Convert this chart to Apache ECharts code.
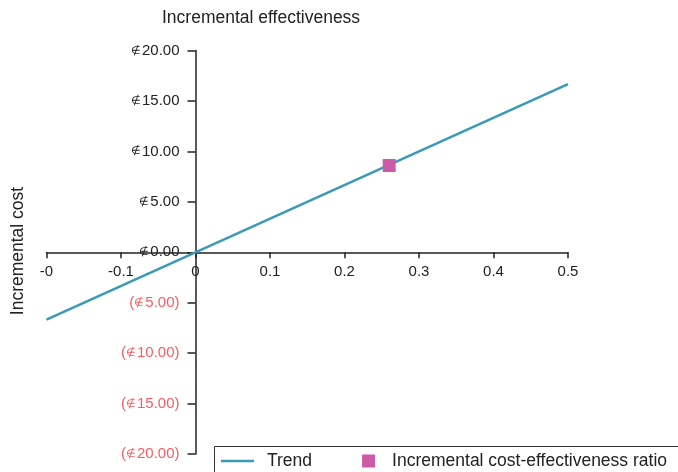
<!DOCTYPE html>
<html>
<head>
<meta charset="utf-8">
<script src="https://cdn.jsdelivr.net/npm/echarts@6/dist/echarts.min.js"></script>
<style>html,body{margin:0;padding:0;background:#fff}#c{width:678px;height:472px}</style>
</head>
<body>
<div id="c"></div>
<script>
// Data
var trendX = [-0.2, 0.5];
var trendY = [-6.67, 16.67];
var icerX = [0.26];
var icerY = [8.6];
var xTickLabels = ['-0', '-0.1', '0', '0.1', '0.2', '0.3', '0.4', '0.5'];
var seriesNames = ['Trend', 'Incremental cost-effectiveness ratio'];
var titleText = 'Incremental effectiveness';
var yAxisTitle = 'Incremental cost';

var FONT = 'Liberation Sans, Arial, Helvetica, sans-serif';
var chart = echarts.init(document.getElementById('c'));

var trendData = trendX.map(function (x, i) { return [x, trendY[i]]; });
var icerData = icerX.map(function (x, i) { return [x, icerY[i]]; });

// grid geometry (layout only)
var G = { left: 46.5, right: 110, top: 50.5, bottom: 18, w: 678, h: 472 };
var plotW = G.w - G.left - G.right;
var plotH = G.h - G.top - G.bottom;
var xMin = -0.2, xMax = 0.5, yMin = -20, yMax = 20;
// offsets so axes cross at zero
var xAxisOffset = -plotH * (0 - yMin) / (yMax - yMin);
var yAxisOffset = -plotW * (0 - xMin) / (xMax - xMin);

chart.setOption({
  animation: false,
  backgroundColor: '#fff',
  textStyle: { fontFamily: FONT },
  title: {
    text: titleText,
    left: 162, top: 9, padding: 0,
    textStyle: { fontSize: 17.5, fontWeight: 'normal', color: '#222', fontFamily: FONT }
  },
  graphic: [
    {
      type: 'text',
      x: 18.5, y: 251,
      rotation: Math.PI / 2,
      style: {
        text: yAxisTitle,
        fill: '#222',
        font: '17.5px ' + FONT,
        align: 'center',
        verticalAlign: 'middle'
      }
    },
    {
      type: 'rect',
      shape: { x: 214.5, y: 446.5, width: 500, height: 40 },
      style: { fill: 'none', stroke: '#333', lineWidth: 1 },
      z: 10
    }
  ],
  legend: {
    left: 214, top: 446,
    padding: [6, 0, 6, 7],
    itemWidth: 33, itemHeight: 13, itemGap: 50,
    textStyle: { fontSize: 17.5, color: '#222', fontFamily: FONT },
    data: [
      { name: seriesNames[0], icon: 'path://M0,0h33v2.5h-33z', textStyle: { padding: [0, 0, 0, 8] } },
      { name: seriesNames[1], icon: 'path://M0,0h13v13h-13z', textStyle: { padding: [0, 0, 0, 2] } }
    ]
  },
  grid: {
    left: G.left, right: G.right, top: G.top, bottom: G.bottom,
    containLabel: false, outerBoundsMode: 'none'
  },
  xAxis: {
    type: 'value',
    min: xMin, max: xMax, interval: 0.1,
    position: 'bottom',
    offset: xAxisOffset,
    axisLine: { onZero: false, lineStyle: { color: '#222', width: 1.5 } },
    axisTick: { show: true, length: 6, lineStyle: { color: '#222', width: 1.5 } },
    splitLine: { show: false },
    axisLabel: {
      margin: 12, fontSize: 15, color: '#222', fontFamily: FONT,
      showMinLabel: true, showMaxLabel: true, hideOverlap: false,
      formatter: function (v) {
        var idx = Math.round((v - xMin) / 0.1);
        return xTickLabels[idx] !== undefined ? xTickLabels[idx] : '';
      }
    }
  },
  yAxis: {
    type: 'value',
    min: yMin, max: yMax, interval: 5,
    position: 'left',
    offset: yAxisOffset,
    axisLine: { onZero: false, lineStyle: { color: '#222', width: 1.5 } },
    axisTick: { show: true, length: 8, lineStyle: { color: '#222', width: 1.5 } },
    splitLine: { show: false },
    axisLabel: {
      margin: 16, fontSize: 15, color: '#222', fontFamily: FONT,
      showMinLabel: true, showMaxLabel: true, hideOverlap: false,
      formatter: function (v) {
        if (v >= 0) return '{s|∉}{p|' + v.toFixed(2) + '}';
        return '{r|(}{rs|∉}{r|' + Math.abs(v).toFixed(2) + ')}';
      },
      rich: {
        s: { fontSize: 11, color: '#222', fontFamily: FONT, padding: [0, 1, 0, 0] },
        p: { fontSize: 15, color: '#222', fontFamily: FONT },
        rs: { fontSize: 11, color: '#ff5a5f', fontFamily: FONT, padding: [0, 1, 0, 0] },
        r: { fontSize: 15, color: '#ff5a5f', fontFamily: FONT }
      }
    }
  },
  series: [
    {
      name: seriesNames[0],
      type: 'line',
      data: trendData,
      symbol: 'none',
      lineStyle: { color: '#3a9ab6', width: 2.5 },
      itemStyle: { color: '#3a9ab6' },
      z: 2
    },
    {
      name: seriesNames[1],
      type: 'scatter',
      data: icerData,
      symbol: 'rect',
      symbolSize: 13,
      itemStyle: { color: '#cc5aa6', opacity: 1 },
      z: 3
    }
  ]
});
</script>
</body>
</html>
